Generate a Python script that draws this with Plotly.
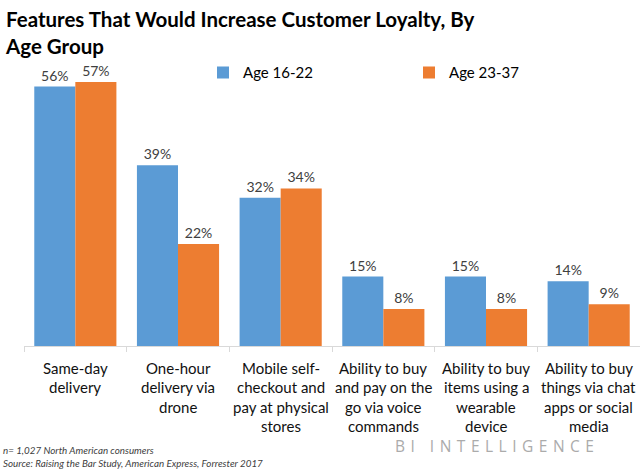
import plotly.graph_objects as go

categories = [
    "Same-day delivery",
    "One-hour delivery via drone",
    "Mobile self-checkout and pay at physical stores",
    "Ability to buy and pay on the go via voice commands",
    "Ability to buy items using a wearable device",
    "Ability to buy things via chat apps or social media",
]
label_lines = [
    ["Same-day", "delivery"],
    ["One-hour", "delivery via", "drone"],
    ["Mobile self-", "checkout and", "pay at physical", "stores"],
    ["Ability to buy", "and pay on the", "go via voice", "commands"],
    ["Ability to buy", "items using a", "wearable", "device"],
    ["Ability to buy", "things via chat", "apps or social", "media"],
]
age_16_22 = [56, 39, 32, 15, 15, 14]
age_23_37 = [57, 22, 34, 8, 8, 9]
series_names = ["Age 16-22", "Age 23-37"]
title_text = "Features That Would Increase Customer Loyalty, By<br>Age Group"
footnote_lines = ["n= 1,027 North American consumers",
                  "Source: Raising the Bar Study, American Express, Forrester 2017"]
brand = "BI INTELLIGENCE"

FONT = "Lato"
BLUE = "#5B9BD5"
ORANGE = "#ED7D31"

fig = go.Figure()
for name, vals, col in [(series_names[0], age_16_22, BLUE), (series_names[1], age_23_37, ORANGE)]:
    fig.add_trace(go.Bar(
        x=categories, y=vals, name=name, marker_color=col, marker_line_width=0,
        text=[f"{v}%" for v in vals], textposition="outside",
        textfont=dict(family=FONT, size=14, color="#404040"),
        cliponaxis=False, hoverinfo="skip",
    ))

W, H = 640, 469
ml, mr, mt, mb = 24, 0, 68, 123
PW = W - ml - mr

fig.update_layout(
    width=W, height=H,
    margin=dict(l=ml, r=mr, t=mt, b=mb, autoexpand=False),
    paper_bgcolor="white", plot_bgcolor="white",
    barmode="group", bargap=0.2, bargroupgap=0,
    font=dict(family=FONT, color="#000000"),
    showlegend=True,
    legend=dict(orientation="h", x=(203 - ml) / PW, xanchor="left", y=0.983, yanchor="middle",
                font=dict(family=FONT, size=15, color="#000000"),
                entrywidth=161, entrywidthmode="pixels", itemwidth=30,
                bgcolor="rgba(0,0,0,0)", traceorder="normal"),
    xaxis=dict(showticklabels=False, showline=True, linecolor="#d9d9d9", linewidth=1,
               ticks="outside", tickson="boundaries", ticklen=5, tickcolor="#d9d9d9",
               showgrid=False, zeroline=False),
    yaxis=dict(range=[0, 60], visible=False, showgrid=False, zeroline=False),
)

fig.add_annotation(text=f"<b>{title_text}</b>", xref="paper", yref="paper",
                   x=-ml / PW, y=1, yshift=mt - 5, xshift=3,
                   xanchor="left", yanchor="top", align="left", showarrow=False,
                   font=dict(family=FONT, size=20.5, color="#000000"))

for cat, lines in zip(categories, label_lines):
    for i, line in enumerate(lines):
        fig.add_annotation(text=line, x=cat, y=0, xref="x", yref="y",
                           yanchor="middle", xanchor="center", showarrow=False,
                           yshift=-(22 + i * 19.4),
                           font=dict(family=FONT, size=15, color="#111111"))

for i, line in enumerate(footnote_lines):
    fig.add_annotation(text=f"<i>{line}</i>", xref="paper", yref="paper",
                       x=-ml / PW, y=0, xshift=1, yshift=-(104 + i * 12.5),
                       xanchor="left", yanchor="middle", showarrow=False,
                       font=dict(family=FONT, size=9.8, color="#404040"))

fig.add_annotation(text=f'<span style="letter-spacing:5.5px">{brand}</span>',
                   xref="paper", yref="paper", x=(497 - ml) / PW, y=0,
                   yshift=-100, xanchor="center", yanchor="middle", align="center",
                   showarrow=False,
                   font=dict(family="Open Sans", size=15.5, color="#ababab"))

fig.write_html("out.html", config={"displayModeBar": False},
               post_script="document.body.style.margin='0';document.body.style.padding='0';")
